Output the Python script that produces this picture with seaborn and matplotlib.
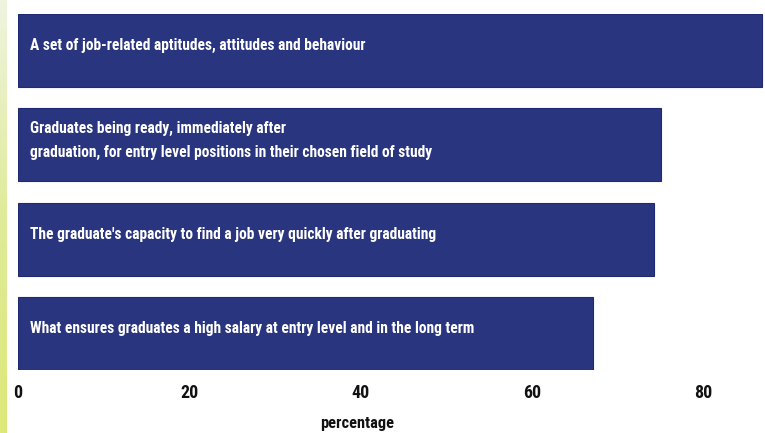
import numpy as np
import pandas as pd
import seaborn as sns
import matplotlib.pyplot as plt
from matplotlib import font_manager

# datos
labels = [
    "A set of job-related aptitudes, attitudes and behaviour",
    "Graduates being ready, immediately after\ngraduation, for entry level positions in their chosen field of study",
    "The graduate's capacity to find a job very quickly after graduating",
    "What ensures graduates a high salary at entry level and in the long term",
]
values = [86.8, 75.0, 74.2, 67.1]
ticks = [0, 20, 40, 60, 80]

df = pd.DataFrame({"item": labels, "pct": values})

sns.set_theme(style="white")

# buscar una fuente estrecha si existe
fonts = font_manager.fontManager.ttflist
names = {f.name for f in fonts}
narrow = None
for cand in ["Liberation Sans Narrow", "Roboto Condensed", "Open Sans Condensed", "Noto Sans Condensed"]:
    if cand in names:
        narrow = cand
        break
stretch = "normal"
if narrow is None:
    narrow = "DejaVu Sans"
    if any(f.name == "DejaVu Sans" and f.stretch == "condensed" for f in fonts):
        stretch = "condensed"
plt.rcParams["font.family"] = [narrow, "DejaVu Sans"]
plt.rcParams["font.stretch"] = stretch

fig = plt.figure(figsize=(7.65, 4.33), dpi=100)
fig.patch.set_facecolor("white")

# franja lateral amarillo-verde
strip = fig.add_axes([0, 0, 7 / 765, 1])
grad = np.linspace(0, 1, 100).reshape(-1, 1)
strip.imshow(grad, aspect="auto", cmap=sns.blend_palette(["#eef4df", "#dfeb98", "#dce878"], as_cmap=True),
             origin="upper")
strip.axis("off")

ax = fig.add_axes([18 / 765, 63 / 433, 747 / 765, 356 / 433])
sns.barplot(data=df, x="pct", y="item", orient="h", color="#2a3580",
            width=0.775, saturation=1, edgecolor="#1f2a72", linewidth=0.8, ax=ax)

texts = []
for i, txt in enumerate(labels):
    t = ax.text(1.4, i - 0.05, txt, color="white", fontsize=11, fontweight="bold",
                va="center", ha="left", linespacing=1.75)
    texts.append(t)

# ajustar tamaño para que la última etiqueta mida ~445 px
fig.canvas.draw()
r = fig.canvas.get_renderer()
w = texts[3].get_window_extent(r).width
size = 11 * 445 / w
for t in texts:
    t.set_fontsize(size)

ax.set_xlim(0, 747 / 8.567)
ax.set_ylim(3 + 0.3875, -0.3875)
ax.set_xticks(ticks)
tick_size = size * 1.15
ax.set_xticklabels([str(t) for t in ticks], fontsize=tick_size, fontweight="bold", color="#111111")
ax.tick_params(axis="x", length=0, pad=10)
ax.set_yticks([])
ax.set_ylabel("")
ax.set_xlabel("percentage", fontsize=size * 1.05, fontweight="bold", color="#111111", labelpad=10)
ax.xaxis.label.set_x(0.454)
for s in ax.spines.values():
    s.set_visible(False)

fig.savefig("out.png", dpi=100)
